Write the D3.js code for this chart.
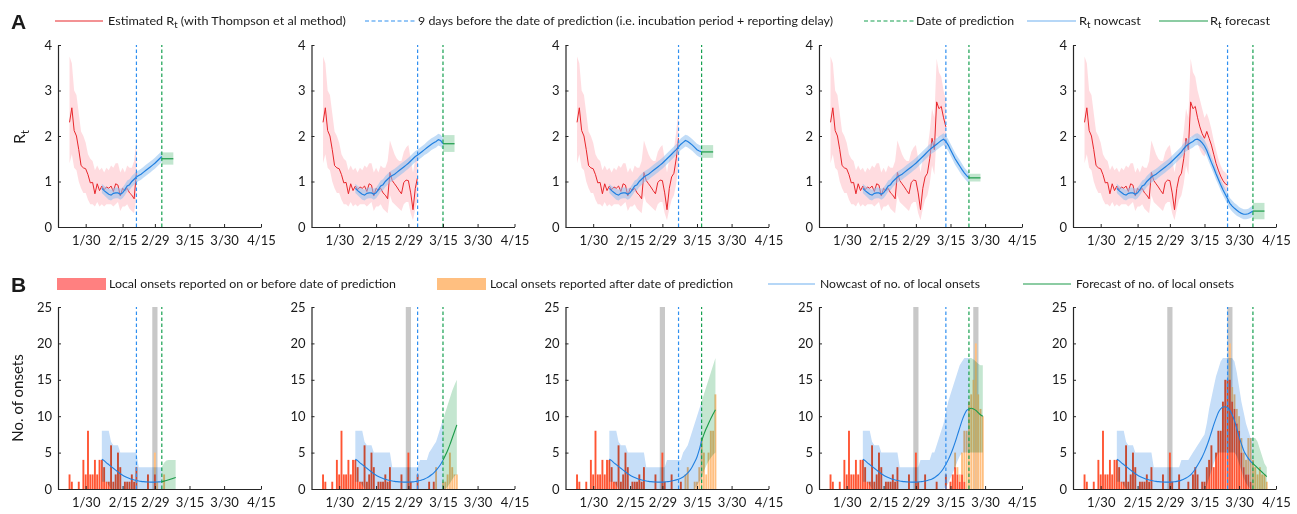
<!DOCTYPE html>
<html><head><meta charset="utf-8">
<script src="https://cdn.jsdelivr.net/npm/d3@7"></script>
<style>
body{margin:0;background:#fff}
svg{display:block}
text{font-family:Lato,"Open Sans",sans-serif;fill:#1a1a1a}
</style>
</head><body><svg id="c" width="1297" height="514"></svg>
<script>
// ---------------- DATA ----------------
const xTickLabels = ["1/30","2/15","2/29","3/15","3/30","4/15"];
const xTickDates  = ["2020-01-30","2020-02-15","2020-02-29","2020-03-15","2020-03-30","2020-04-15"];
const rtTicks = [0,1,2,3,4];
const onsetTicks = [0,5,10,15,20,25];

const predDates = ["2020-03-03","2020-03-15","2020-03-17","2020-03-23","2020-04-05"];
const cutDates  = ["2020-02-21","2020-03-04","2020-03-07","2020-03-13","2020-03-25"];
const grayDates = [["2020-02-29"],["2020-02-29"],["2020-02-29"],["2020-02-29","2020-03-26"],["2020-02-29","2020-03-26"]];

// Estimated Rt (Thompson et al), daily from 2020-01-23
const rtEstStart = "2020-01-23";
const rtEst = [2.30,2.62,2.12,2.00,1.70,1.35,1.30,1.28,1.15,
  0.97,0.98,0.73,0.95,0.80,0.90,0.82,0.88,0.85,0.90,0.78,0.95,0.92,0.68,0.85,0.80,0.85,0.75,0.70,0.62,1.20,1.02,0.95,0.88,0.80,0.73,0.98,1.03,1.02,
  0.75,0.38,0.85,1.10,1.18,1.50,1.95,1.70,2.75,2.60,2.65,2.40,2.20,2.05,1.95,2.10,1.95,1.80,1.60,1.40,1.25,1.12,1.02,0.95,0.92];
const rtEstHi = [3.75,3.60,3.00,2.90,2.50,2.10,2.00,1.85,1.60,
  1.50,1.45,1.25,1.35,1.25,1.30,1.20,1.30,1.25,1.35,1.30,1.40,1.40,1.20,1.30,1.20,1.35,1.30,1.30,1.45,1.90,1.75,1.60,1.50,1.45,1.45,1.65,1.75,1.80,
  1.50,1.20,1.50,1.65,1.70,2.10,2.60,2.40,3.70,3.40,3.30,3.00,2.80,2.60,2.40,2.50,2.35,2.15,1.90,1.70,1.50,1.35,1.25,1.20,1.15];
const rtEstLo = [1.40,1.60,1.30,1.25,1.00,0.85,0.75,0.75,0.60,
  0.50,0.50,0.45,0.55,0.45,0.50,0.45,0.50,0.50,0.50,0.45,0.50,0.55,0.35,0.45,0.45,0.50,0.40,0.35,0.30,0.70,0.55,0.50,0.45,0.40,0.35,0.50,0.55,0.55,
  0.30,0.15,0.40,0.60,0.70,0.95,1.35,1.15,2.00,1.95,2.00,1.85,1.70,1.60,1.55,1.70,1.60,1.50,1.35,1.15,1.05,0.95,0.85,0.80,0.75];

// Rt nowcast, daily from 2020-02-06 (last panel), with per-panel tails from 2020-03-01
const rtNowStart = "2020-02-06";
const rtNow = [0.85,0.80,0.76,0.72,0.70,0.74,0.75,0.75,0.72,0.75,0.82,0.90,0.93,1.00,1.05,1.10,1.13,1.16,1.20,1.24,1.28,1.32,1.36,1.40,
  1.45,1.50,1.55,1.60,1.65,1.72,1.78,1.82,1.85,1.88,1.92,1.93,1.90,1.85,1.78,1.68,1.55,1.42,1.30,1.17,1.05,0.93,0.82,0.72,0.62,0.52,0.46,0.41,0.37,0.33,0.30,
  0.28,0.28,0.29,0.32,0.35];
const rtNowHalf = [0.10,0.10,0.11,0.12,0.12,0.12,0.12,0.12,0.12,0.12,0.12,0.12,0.12,0.12,0.12,0.12,0.12,0.12,0.12,0.12,0.12,0.12,0.12,0.12,
  0.12,0.12,0.12,0.12,0.12,0.12,0.12,0.13,0.13,0.13,0.13,0.13,0.13,0.13,0.13,0.13,0.13,0.13,0.13,0.13,0.12,0.12,0.12,0.12,0.12,0.12,0.12,0.12,0.12,0.11,0.11,
  0.11,0.11,0.11,0.12,0.12];
const rtNowTailStart = "2020-03-01";
const rtNowTails = [null,
  [1.45,1.50,1.55,1.58,1.62,1.66,1.70,1.74,1.78,1.82,1.85,1.88,1.92,1.90,1.83],
  [1.45,1.50,1.55,1.60,1.65,1.70,1.76,1.82,1.86,1.90,1.88,1.84,1.80,1.75,1.70,1.67,1.65],
  [1.45,1.50,1.55,1.60,1.65,1.70,1.74,1.78,1.82,1.86,1.90,1.93,1.88,1.80,1.70,1.60,1.50,1.42,1.34,1.26,1.19,1.13,1.08],
  null];
const rtFc   = [1.50,1.83,1.65,1.08,0.35];
const rtFcLo = [1.37,1.65,1.52,1.00,0.17];
const rtFcHi = [1.64,2.02,1.80,1.17,0.53];
const rtFcDays = 5;

// Local onsets (final counts) daily from 2020-01-22
const onsetStart = "2020-01-22";
const onsets = [0,2,1,0,0,1,0,4,2,8,
  2,2,4,2,4,4,3,1,1,6,1,2,5,3,0,1,1,1,2,1,3,0,0,0,0,2,0,0,5,
  1,0,0,2,0,0,0];
// per-panel tails: reported on/before prediction (red) and after (orange)
const barTailStart = ["2020-02-27","2020-03-08","2020-03-08","2020-03-08","2020-03-08"];
const barTailRed = [
  [0,0,2,0,0,0,0,0,0,0,0,0],
  [0,1,0,1,0,0,0,0,0,0,0,0,0,0],
  [1,0,0,0,0,0,0,0,0,0,0,0,0,0,0,0],
  [0,1,0,0,0,2,0,1,2,3,2,1,2,1,0,0,0,0,0,0,0,0],
  [1,0,2,3,2,0,1,1,3,4,6,3,5,8,8,12,15,15,15,12,11,9,8,5,3,2,2,1,0,0,0,0,0,0,0]];
const barTailOrange = [
  [0,0,3,1,0,0,2,0,0,0,0,0],
  [0,0,0,0,3,0,0,1,1,2,5,3,2,2],
  [0,0,2,3,0,0,1,1,3,7,5,2,5,8,8,13],
  [0,0,0,0,0,0,0,0,0,2,1,1,3,7,8,12,13,15,20,13,11,10],
  [0,0,0,0,0,0,0,0,0,0,0,0,0,0,0,0,0,0,5,2,2,2,2,2,2,2,5,6,4,3,2,3,2,2,1]];

// Onset nowcast, common part from 2020-02-06 to 2020-03-01
const onNowStart = "2020-02-06";
const onNow   = [4.1,3.9,3.6,3.35,3.1,2.85,2.6,2.35,2.1,1.9,1.72,1.57,1.44,1.33,1.24,1.16,1.10,1.05,1.01,0.98,0.96,0.95,0.95,0.95,0.96];
const onNowHi = [8,8,8,8,6.5,6,6,6,5,5,5,5,5,5,5,5,3,3,3,3,3,3,3,3,3];
const onNowLo = [1,1,1,0.5,0,0,0,0,0,0,0,0,0,0,0,0,0,0,0,0,0,0,0,0,0];
const onTailStart = "2020-03-02";
const onNowTail = [
  [0.98,1.0],
  [0.98,1.02,1.08,1.16,1.26,1.38,1.53,1.72,1.95,2.22,2.55,2.95,3.4,3.95],
  [1.0,1.04,1.1,1.17,1.25,1.35,1.48,1.65,1.9,2.2,2.6,3.1,3.7,4.4,5.4,6.6],
  [1.0,1.04,1.1,1.17,1.26,1.38,1.55,1.78,2.05,2.4,2.85,3.4,4.0,4.7,5.5,6.4,7.4,8.4,9.4,10.2,10.8,11.0],
  [1.0,1.05,1.12,1.22,1.35,1.5,1.7,1.95,2.3,2.75,3.25,3.8,4.4,5.1,5.9,6.8,7.8,8.8,9.7,10.5,11.0,11.25,11.3,11.2,10.8,10.2,9.4,8.3,7.2,6.2,5.3,4.7,4.2,3.8,3.5]];
const onNowTailHi = [
  [3,3],
  [3,3,3,4,4,4,4,5,5.5,6,6.5,7.5,8.5,9.5],
  [4,4,4,4,4,4,4,5,5.5,6,7,8,9,10,11,12],
  [4,4,4,4,4,5,5,6,7,8,9,10.5,12,13,14,15,16,17,17.5,18,18,18],
  [3,3,3,4,4,4,4,4.5,5,5.5,6,6.5,7,7.5,9,11,12.5,14,15.5,16.5,17.5,18,18,18,18,18,17.5,16,14,12,10.5,9,8,7,7]];
const onNowTailLo = [
  [0,0],
  [0,0,0,0,0,0,0,0,0,0,0,0,0,0],
  [0,0,0,0,0,0,0,0,0,0,0,0,0,0.5,1,1.5],
  [0,0,0,0,0,0,0,0,0,0,0,0.3,0.8,1.5,2.2,3,3.8,4.5,5,5,5,5],
  [0,0,0,0,0,0,0,0,0,0,0,0,0,0,0.5,1.5,2.5,3.5,4.3,5,5,5,5,5,5,5,5,4.5,3.5,2.5,1.5,0.8,0.3,0,0]];
// Onset forecast from prediction date, 7 days
const onFc = [
  [1.0,1.08,1.17,1.27,1.37,1.48,1.6],
  [3.95,4.6,5.3,6.1,7.0,7.9,8.8],
  [6.6,7.5,8.3,9.0,9.7,10.3,10.9],
  [11.0,11.1,11.0,10.8,10.5,10.2,10.0],
  [3.5,3.2,2.9,2.6,2.3,2.0,1.7]];
const onFcHi = [
  [3,3.6,3.9,4,4,4,4],
  [9.5,10.5,11.5,12.5,13.5,14.3,15],
  [12,13,14,15,16,17,18],
  [18,18,17.8,17.5,17.2,17,17],
  [7,7,6.5,5.5,4.5,3.5,3]];
const onFcLo = [
  [0,0,0,0,0,0,0],
  [0,0,0.3,0.8,1.3,1.8,2],
  [1.5,2.5,3.2,3.8,4.3,4.7,5],
  [5,5,5,5,5,5,5],
  [0,0,0,0,0,0,0]];

// ---------------- LAYOUT / STYLE ----------------
const X0 = [58, 311.5, 565.5, 819, 1073];
const PW = 203;
const A = {top:45, bottom:227};
const B = {top:307, bottom:489};
const C = {
  red:"#e8262b", pink:"#ff9aa5", blue:"#1f7fe0", blueBand:"#8ec0f0",
  green:"#1a9a48", greenBand:"#8fd1a8", blueDash:"#2f8ff0", greenDash:"#16a050",
  barRed:"#ff5533", barOrange:"#ffbf80", gray:"#c8c8c8", axis:"#262626"
};

const day = s => new Date(s + "T00:00:00Z");
const dates = (start, n) => d3.range(n).map(i => d3.utcDay.offset(day(start), i));
const diff = (a, b) => Math.round((day(b) - day(a)) / 864e5);

const x = d3.scaleUtc().domain([day("2020-01-18"), day("2020-04-15")]).range([0, PW]);
const yA = d3.scaleLinear().domain([0,4]).range([A.bottom, A.top]);
const yB = d3.scaleLinear().domain([0,25]).range([B.bottom, B.top]);

const svg = d3.select("#c");

function area(g, ds, lo, hi, y, fill, op, blend){
  const p = g.append("path").datum(ds)
    .attr("d", d3.area().x((d)=>x(d)).y0((d,i)=>y(lo[i])).y1((d,i)=>y(hi[i])))
    .attr("fill", fill).attr("fill-opacity", op).attr("stroke","none");
  if (blend) p.style("mix-blend-mode", blend);
}
function line(g, ds, v, y, color, w, curve){
  g.append("path").datum(ds)
    .attr("d", d3.line().x(d=>x(d)).y((d,i)=>y(v[i])).curve(curve||d3.curveLinear))
    .attr("fill","none").attr("stroke", color).attr("stroke-width", w);
}
function vdash(g, dateStr, y, color){
  g.append("line").attr("x1", x(day(dateStr))).attr("x2", x(day(dateStr)))
    .attr("y1", y.range()[0]).attr("y2", y.range()[1])
    .attr("stroke", color).attr("stroke-width", 1.2).attr("stroke-dasharray","3.5,2.5");
}
function axes(g, y, ticks){
  const xa = g.append("g").attr("transform", `translate(0,${y.range()[0]})`)
    .call(d3.axisBottom(x).tickValues(xTickDates.map(day)).tickFormat((d,i)=>xTickLabels[i])
      .tickSize(-3).tickSizeOuter(0).tickPadding(9));
  const ya = g.append("g").call(d3.axisLeft(y).tickValues(ticks).tickFormat(d3.format("d"))
      .tickSize(-3).tickSizeOuter(0).tickPadding(6));
  [xa, ya].forEach(a=>{
    a.select(".domain").attr("stroke", C.axis).attr("stroke-width",1.2);
    a.selectAll(".tick line").attr("stroke", C.axis);
    a.selectAll(".tick text").attr("font-size", 13).attr("fill", C.axis)
      .style("font-family","Lato, 'Open Sans', sans-serif");
  });
}

// ---------------- ROW A ----------------
X0.forEach((x0, p) => {
  const g = svg.append("g").attr("transform", `translate(${x0},0)`);
  const nE = diff(rtEstStart, cutDates[p]) + 1;
  const dE = dates(rtEstStart, nE);
  area(g, dE, rtEstLo.slice(0,nE), rtEstHi.slice(0,nE), yA, C.pink, 0.35);
  line(g, dE, rtEst.slice(0,nE), yA, C.red, 1);
  const nN = diff(rtNowStart, predDates[p]) + 1;
  let vals = rtNow.slice(0, nN);
  if (rtNowTails[p]) {
    const off = diff(rtNowStart, rtNowTailStart);
    vals = rtNow.slice(0, off).concat(rtNowTails[p]).slice(0, nN);
  }
  const half = rtNowHalf.slice(0, nN);
  const dN = dates(rtNowStart, nN);
  area(g, dN, vals.map((v,i)=>v-half[i]), vals.map((v,i)=>v+half[i]), yA, C.blueBand, 0.55);
  line(g, dN, vals, yA, C.blue, 1.2);
  const dF = [day(predDates[p]), d3.utcDay.offset(day(predDates[p]), rtFcDays)];
  area(g, dF, [rtFcLo[p], rtFcLo[p]], [rtFcHi[p], rtFcHi[p]], yA, C.greenBand, 0.55);
  line(g, dF, [rtFc[p], rtFc[p]], yA, C.green, 1.2);
  vdash(g, cutDates[p], yA, C.blueDash);
  vdash(g, predDates[p], yA, C.greenDash);
  axes(g, yA, rtTicks);
});

// ---------------- ROW B ----------------
X0.forEach((x0, p) => {
  const g = svg.append("g").attr("transform", `translate(${x0},0)`);
  const dayW = x(day("2020-01-19")) - x(day("2020-01-18"));
  const bw = dayW * 0.82;
  grayDates[p].forEach(s => {
    g.append("rect").attr("x", x(day(s)) - 2.6).attr("width", 5.2)
      .attr("y", B.top).attr("height", B.bottom - B.top).attr("fill", C.gray);
  });
  const tailOff = diff(onsetStart, barTailStart[p]);
  const bars = [];
  onsets.slice(0, tailOff).forEach((v,i)=> bars.push({d: d3.utcDay.offset(day(onsetStart), i), r: v, o: 0}));
  barTailRed[p].forEach((v,i)=> bars.push({d: d3.utcDay.offset(day(barTailStart[p]), i), r: v, o: barTailOrange[p][i]}));
  g.selectAll(".bo").data(bars.filter(b=>b.o>0)).join("rect")
    .attr("x", b=>x(b.d)-bw/2).attr("width", bw)
    .attr("y", b=>yB(b.r+b.o)).attr("height", b=>yB(b.r)-yB(b.r+b.o)).attr("fill", C.barOrange);
  g.selectAll(".br").data(bars.filter(b=>b.r>0)).join("rect")
    .attr("x", b=>x(b.d)-bw/2).attr("width", bw)
    .attr("y", b=>yB(b.r)).attr("height", b=>yB(0)-yB(b.r)).attr("fill", C.barRed);
  const nPred = diff(onNowStart, predDates[p]) + 1;
  const off = diff(onNowStart, onTailStart);
  const nv = onNow.slice(0, off).concat(onNowTail[p]).slice(0, nPred);
  const nh = onNowHi.slice(0, off).concat(onNowTailHi[p]).slice(0, nPred);
  const nl = onNowLo.slice(0, off).concat(onNowTailLo[p]).slice(0, nPred);
  const dN = dates(onNowStart, nPred);
  area(g, dN, nl, nh, yB, "#c6def8", 1, "multiply");
  const dF = dates(predDates[p], onFc[p].length);
  area(g, dF, onFcLo[p], onFcHi[p], yB, "#c4e6d0", 1, "multiply");
  line(g, dN, nv, yB, C.blue, 1.1, d3.curveMonotoneX);
  line(g, dF, onFc[p], yB, C.green, 1.1, d3.curveMonotoneX);
  vdash(g, cutDates[p], yB, C.blueDash);
  vdash(g, predDates[p], yB, C.greenDash);
  axes(g, yB, onsetTicks);
});

// ---------------- LABELS & LEGENDS ----------------
svg.append("text").attr("x", 11).attr("y", 29).attr("font-size", 21).attr("font-weight","bold")
  .style("font-family","'Liberation Sans',Arial,sans-serif").text("A");
svg.append("text").attr("x", 11).attr("y", 292).attr("font-size", 21).attr("font-weight","bold")
  .style("font-family","'Liberation Sans',Arial,sans-serif").text("B");

const yt = svg.append("text").attr("transform","translate(25,137) rotate(-90)").attr("text-anchor","middle").attr("font-size",16);
yt.append("tspan").text("R");
yt.append("tspan").attr("font-size",11).attr("dy",4).text("t");
svg.append("text").attr("transform","translate(23,398) rotate(-90)").attr("text-anchor","middle").attr("font-size",15).text("No. of onsets");

const legFont = 12;
function legText(xp, yp, parts, width){
  const t = svg.append("text").attr("x", xp).attr("y", yp).attr("font-size", legFont);
  parts.forEach(pt => {
    const s = t.append("tspan").text(pt.t);
    if (pt.sub) s.attr("font-size", 9).attr("dy", 3);
    if (pt.up) s.attr("dy", -3);
  });
  if (width) t.attr("textLength", width).attr("lengthAdjust","spacingAndGlyphs");
}
function legLine(x1, x2, yp, color, dash){
  svg.append("line").attr("x1",x1).attr("x2",x2).attr("y1",yp).attr("y2",yp)
    .attr("stroke",color).attr("stroke-width",1.2).attr("stroke-dasharray", dash?"4,2.5":null);
}
const LA = 21, LAt = 25;
legLine(55,103,LA,C.red);
legText(108, LAt, [{t:"Estimated R"},{t:"t",sub:true},{t:"  (with Thompson et al method)",up:true}], 238);
legLine(365,415,LA,C.blueDash,true);
legText(418, LAt, [{t:"9 days before the date of prediction (i.e. incubation period + reporting delay)"}], 415);
legLine(864,914,LA,C.greenDash,true);
legText(916, LAt, [{t:"Date of prediction"}], 98);
legLine(1027,1076,LA,"#6fb0f0");
legText(1079, LAt, [{t:"R"},{t:"t",sub:true},{t:" nowcast",up:true}], 62);
legLine(1159,1208,LA,C.green);
legText(1210, LAt, [{t:"R"},{t:"t",sub:true},{t:" forecast",up:true}], 60);

const LB = 284, LBt = 288;
svg.append("rect").attr("x",57).attr("y",278).attr("width",49).attr("height",12).attr("fill","#ff8080");
legText(109, LBt, [{t:"Local onsets reported on or before date of prediction"}], 287);
svg.append("rect").attr("x",437).attr("y",278).attr("width",49).attr("height",12).attr("fill",C.barOrange);
legText(490, LBt, [{t:"Local onsets reported after date of prediction"}], 243);
legLine(768,815,LB,"#6fb0f0");
legText(820, LBt, [{t:"Nowcast of no. of local onsets"}], 160);
legLine(1023,1071,LB,C.green);
legText(1076, LBt, [{t:"Forecast of no. of local onsets"}], 158);
</script></body></html>
